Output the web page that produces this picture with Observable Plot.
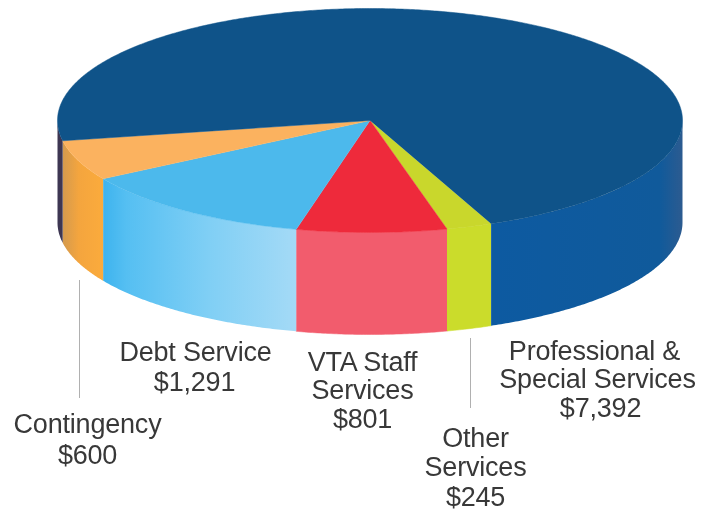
<!DOCTYPE html>
<html><head><meta charset="utf-8">
<script src="https://cdn.jsdelivr.net/npm/d3@7"></script>
<script src="https://cdn.jsdelivr.net/npm/@observablehq/plot@0.6"></script>
<style>html,body{margin:0;padding:0;background:#fff}svg{display:block}</style>
</head><body><div id="chart"></div>
<script>
// Data, in slice order going clockwise from the front-right
const categories = ["Other Services", "VTA Staff Services", "Debt Service", "Contingency", "Professional & Special Services"];
const values = [245, 801, 1291, 600, 7392];
const labelLines = [["Other", "Services"], ["VTA Staff", "Services"], ["Debt Service"], ["Contingency"], ["Professional &", "Special Services"]];

// Layout
const W = 701, H = 513;
const cx = 369.5, cy = 120, rx = 312.5, ry = 112, depth = 102, startDeg = 67.2;
const topColors = ["#c9d72c", "#ee2a3b", "#4cb9ec", "#fbb25f", "#0f5389"];
const sideFills = ["#cbdc2b", "#f25c6d", "url(#g-blue)", "url(#g-orange)", "url(#g-navy)"];
const labelX = [[475, 475, 475], [362, 362, 362], [195, 194], [87, 87], [594, 597, 600]];
const labelY = [[438, 467, 497], [362, 390, 419], [352, 382], [424, 455], [351, 379, 408]];
const leaders = [{x: 79, y1: 280, y2: 398}, {x: 470, y1: 338, y2: 408}];

const total = d3.sum(values);
const rad = d => d * Math.PI / 180;
let acc = startDeg;
const slices = values.map((v, i) => {
  const a0 = acc; acc += v / total * 360;
  return {i, a0, a1: acc};
});
const arc = (a0, a1, dy = 0) => {
  const n = Math.max(2, Math.ceil(Math.abs(a1 - a0) * 2)), pts = [];
  for (let k = 0; k <= n; k++) {
    const a = rad(a0 + (a1 - a0) * k / n);
    pts.push({x: cx + rx * Math.cos(a), y: cy + dy + ry * Math.sin(a)});
  }
  return pts;
};
const topPoly = s => [{x: cx, y: cy}, ...arc(s.a0, s.a1)];
const sidePoly = (a0, a1) => [...arc(a0, a1), ...arc(a1, a0, depth)];

const sideMarks = [];
slices.forEach(s => {
  if (s.i === 4) {
    sideMarks.push(Plot.line(sidePoly(s.a0, 180), {x: "x", y: "y", fill: "#3d3652", stroke: "none"}));
    sideMarks.push(Plot.line(sidePoly(360, s.a1), {x: "x", y: "y", fill: sideFills[4], stroke: "none"}));
  } else {
    sideMarks.push(Plot.line(sidePoly(s.a0, s.a1), {x: "x", y: "y", fill: sideFills[s.i], stroke: sideFills[s.i].startsWith("url") ? "none" : sideFills[s.i], strokeWidth: 0.5}));
  }
});
const topMarks = slices.map(s => Plot.line(topPoly(s), {x: "x", y: "y", fill: topColors[s.i], stroke: topColors[s.i], strokeWidth: 0.5}));

const rows = [];
labelLines.forEach((lines, i) => {
  [...lines, d3.format("$,")(values[i])].forEach((text, j) => rows.push({text, x: labelX[i][j], y: labelY[i][j]}));
});

const grad = (id, stops) => `<linearGradient id="${id}" x1="0" x2="1" y1="0" y2="0">${stops.map(([o, c]) => `<stop offset="${o}" stop-color="${c}"/>`).join("")}</linearGradient>`;
const defs = () => {
  const g = d3.create("svg:defs");
  g.html(
    grad("g-blue", [[0, "#3db3ee"], [0.12, "#55bff2"], [0.55, "#80cff5"], [1, "#a4daf6"]]) +
    grad("g-orange", [[0, "#d49a4e"], [0.4, "#f4a53e"], [1, "#fbab3c"]]) +
    grad("g-navy", [[0, "#0d5aa1"], [0.88, "#105a9b"], [1, "#2c5b90"]])
  );
  return g.node();
};

const chart = Plot.plot({
  width: W, height: H, margin: 0,
  x: {domain: [0, W], range: [0, W], axis: null},
  y: {domain: [0, H], range: [0, H], axis: null},
  style: {background: "#fff", filter: "blur(0.5px)", letterSpacing: "-0.2px"},
  marks: [
    defs,
    ...sideMarks,
    ...topMarks,
    Plot.ruleX(leaders, {x: "x", y1: "y1", y2: "y2", stroke: "#b0b0b0", strokeWidth: 1}),
    Plot.text(rows, {x: "x", y: "y", text: "text", fontSize: 27, fontFamily: "Liberation Sans, Arial, sans-serif", fill: "#383838", textAnchor: "middle", lineAnchor: "middle"})
  ]
});
document.getElementById("chart").append(chart);
</script></body></html>
